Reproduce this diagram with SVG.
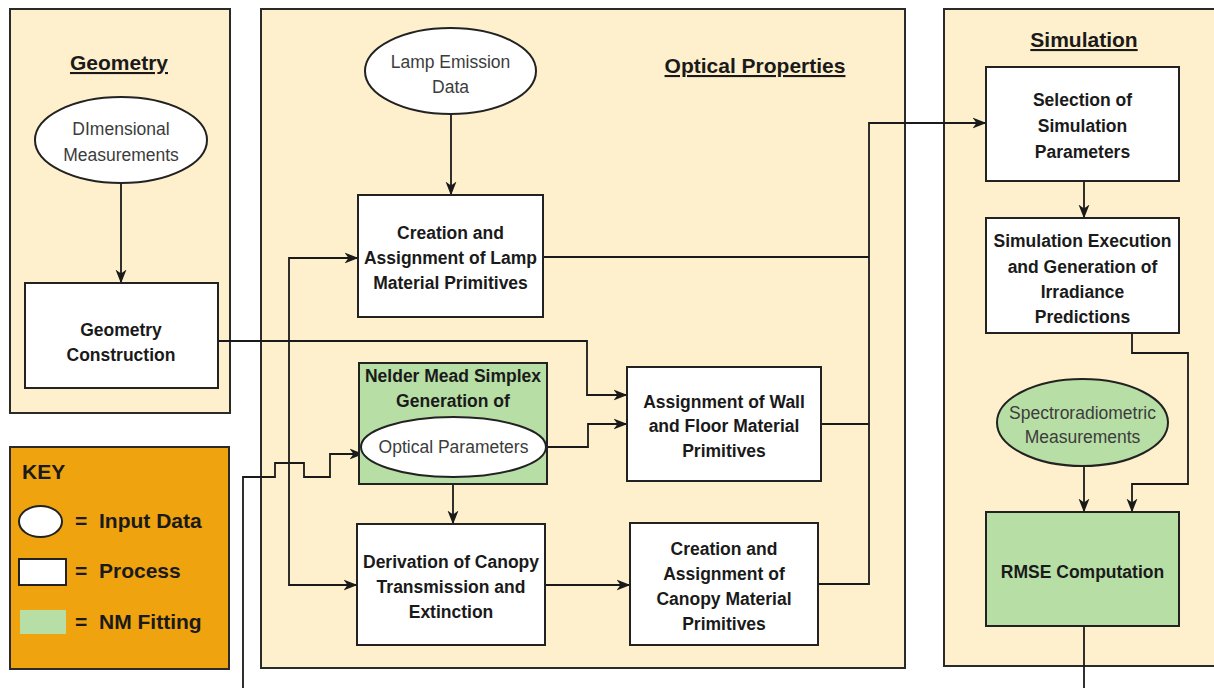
<svg xmlns="http://www.w3.org/2000/svg" width="1214" height="688" viewBox="0 0 1214 688">
<style>
.panel{fill:#FFF0CD;stroke:#2a2a2a;stroke-width:2}
.box{fill:#FFFFFF;stroke:#222;stroke-width:2}
.green{fill:#B7DEA5;stroke:#222;stroke-width:2}
.ell{fill:#FFFFFF;stroke:#222;stroke-width:2}
.pt{font-family:"Liberation Sans",Arial,sans-serif;font-size:17.5px;font-weight:bold;fill:#1a1a1a;text-anchor:middle}
.it{font-family:"Liberation Sans",Arial,sans-serif;font-size:17.5px;fill:#3c3c3c;text-anchor:middle}
.title{font-family:"Liberation Sans",Arial,sans-serif;font-size:21px;font-weight:bold;fill:#1a1a1a;text-anchor:middle;text-decoration:underline}
.key{font-family:"Liberation Sans",Arial,sans-serif;font-size:21px;font-weight:bold;fill:#1a1a1a}
.c{fill:none;stroke:#1a1a1a;stroke-width:1.8}
</style>
<defs>
<marker id="ah" markerUnits="userSpaceOnUse" markerWidth="14" markerHeight="12" refX="13.5" refY="6" orient="auto" viewBox="0 0 14 12">
<path d="M0,0.5 L14,6 L0,11.5 L4,6 Z" fill="#1a1a1a"/>
</marker>
</defs>
<rect width="1214" height="688" fill="#FFFFFF"/>

<g id="panel-geometry">
<rect class="panel" x="10" y="9" width="220" height="404"/>
<text class="title" x="119" y="70">Geometry</text>
</g>
<g id="panel-optical">
<rect class="panel" x="261" y="9" width="644" height="659"/>
<text class="title" x="755" y="73">Optical Properties</text>
</g>
<g id="panel-simulation">
<rect class="panel" x="944" y="9" width="275" height="657"/>
<text class="title" x="1084" y="47">Simulation</text>
</g>

<g id="key">
<rect x="10" y="447" width="219" height="222" fill="#EFA30F" stroke="#2a2a2a" stroke-width="2"/>
<text class="key" x="22" y="479">KEY</text>
<ellipse cx="40.5" cy="521.5" rx="21.5" ry="15.5" fill="#FFFFFF" stroke="#222" stroke-width="2"/>
<text class="key" x="75" y="528">=</text>
<text class="key" x="99" y="528">Input Data</text>
<rect x="19" y="559" width="47" height="26" fill="#FFFFFF" stroke="#222" stroke-width="2"/>
<text class="key" x="75" y="578">=</text>
<text class="key" x="99" y="578">Process</text>
<rect x="20" y="610" width="46" height="24" fill="#B7DEA5"/>
<text class="key" x="75" y="629">=</text>
<text class="key" x="99" y="629">NM Fitting</text>
</g>

<g id="connectors">
<path class="c" d="M121,183 V283" marker-end="url(#ah)"/>
<path class="c" d="M218,341 H587 V395 H627" marker-end="url(#ah)"/>
<path class="c" d="M289,341 V258 H358" marker-end="url(#ah)"/>
<path class="c" d="M289,341 V585 H357" marker-end="url(#ah)"/>
<path class="c" d="M451,114 V195" marker-end="url(#ah)"/>
<path class="c" d="M543,257 H869"/>
<path class="c" d="M821,424 H869"/>
<path class="c" d="M818,584 H869 V123 H986" marker-end="url(#ah)"/>
<path class="c" d="M546,447 H588 V424 H627" marker-end="url(#ah)"/>
<path class="c" d="M453,477 V524" marker-end="url(#ah)"/>
<path class="c" d="M545,585 H630" marker-end="url(#ah)"/>
<path class="c" d="M243,690 V477 H275 V463 H304 V477 H330 V454 H363" marker-end="url(#ah)"/>
<path class="c" d="M1084,181 V218" marker-end="url(#ah)"/>
<path class="c" d="M1132,333 V353 H1188 V484 H1132 V512" marker-end="url(#ah)"/>
<path class="c" d="M1084,466 V512" marker-end="url(#ah)"/>
<path class="c" d="M1084,626 V690"/>
</g>

<g id="dimensional-measurements">
<ellipse class="ell" cx="121" cy="140" rx="86" ry="43"/>
<text class="it" x="121" y="135">DImensional</text>
<text class="it" x="121" y="161">Measurements</text>
</g>
<g id="geometry-construction">
<rect class="box" x="25" y="283" width="193" height="105"/>
<text class="pt" x="121" y="336">Geometry</text>
<text class="pt" x="121" y="361">Construction</text>
</g>

<g id="lamp-emission-data">
<ellipse class="ell" cx="450.5" cy="71" rx="85.5" ry="43"/>
<text class="it" x="450.5" y="68">Lamp Emission</text>
<text class="it" x="450.5" y="93">Data</text>
</g>
<g id="lamp-primitives">
<rect class="box" x="358" y="195" width="185" height="122"/>
<text class="pt" x="450.5" y="239">Creation and</text>
<text class="pt" x="450.5" y="264">Assignment of Lamp</text>
<text class="pt" x="450.5" y="289">Material Primitives</text>
</g>
<g id="nelder-mead">
<rect class="green" x="359" y="363" width="188" height="121"/>
<text class="pt" x="453" y="382">Nelder Mead Simplex</text>
<text class="pt" x="453" y="407">Generation of</text>
<ellipse class="ell" cx="453.5" cy="447" rx="92.5" ry="30"/>
<text class="it" x="453.5" y="453">Optical Parameters</text>
</g>
<g id="wall-floor-primitives">
<rect class="box" x="627" y="367" width="194" height="114"/>
<text class="pt" x="724" y="408">Assignment of Wall</text>
<text class="pt" x="724" y="432">and Floor Material</text>
<text class="pt" x="724" y="457">Primitives</text>
</g>
<g id="canopy-derivation">
<rect class="box" x="357" y="524" width="188" height="121"/>
<text class="pt" x="451" y="568">Derivation of Canopy</text>
<text class="pt" x="451" y="593">Transmission and</text>
<text class="pt" x="451" y="618">Extinction</text>
</g>
<g id="canopy-primitives">
<rect class="box" x="630" y="523" width="188" height="122"/>
<text class="pt" x="724" y="555">Creation and</text>
<text class="pt" x="724" y="580">Assignment of</text>
<text class="pt" x="724" y="605">Canopy Material</text>
<text class="pt" x="724" y="630">Primitives</text>
</g>

<g id="simulation-parameters">
<rect class="box" x="986" y="67" width="193" height="114"/>
<text class="pt" x="1082.5" y="106">Selection of</text>
<text class="pt" x="1082.5" y="132">Simulation</text>
<text class="pt" x="1082.5" y="158">Parameters</text>
</g>
<g id="simulation-execution">
<rect class="box" x="986" y="218" width="193" height="115"/>
<text class="pt" x="1082.5" y="247">Simulation Execution</text>
<text class="pt" x="1082.5" y="273">and Generation of</text>
<text class="pt" x="1082.5" y="298">Irradiance</text>
<text class="pt" x="1082.5" y="323">Predictions</text>
</g>
<g id="spectroradiometric-measurements">
<ellipse class="green" cx="1082.5" cy="422.5" rx="85.5" ry="43.5"/>
<text class="it" x="1082.5" y="419">Spectroradiometric</text>
<text class="it" x="1082.5" y="443">Measurements</text>
</g>
<g id="rmse-computation">
<rect class="green" x="986" y="512" width="193" height="114"/>
<text class="pt" x="1082.5" y="578">RMSE Computation</text>
</g>
</svg>
